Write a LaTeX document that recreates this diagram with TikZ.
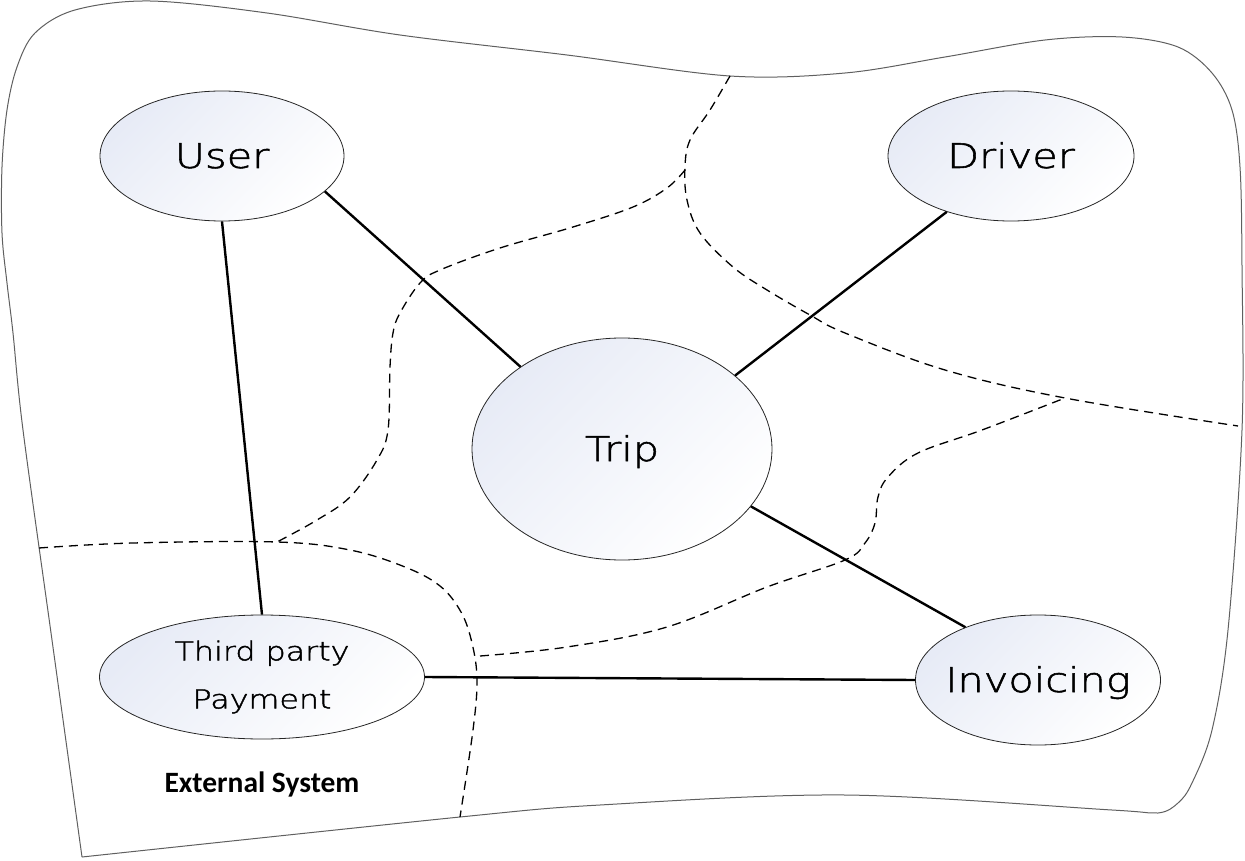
\documentclass[tikz,border=0pt]{standalone}
\usepackage{fontspec}
\setmainfont{Carlito}
\newfontfamily\handfont[FakeStretch=1.22,FakeBold=1.6]{DejaVu Sans ExtraLight}
\usetikzlibrary{shapes.geometric}
\definecolor{ellfill}{RGB}{231,235,246}
\definecolor{outl}{RGB}{95,95,95}
\tikzset{
  entity/.style={ellipse, draw=black!85, line width=0.8pt,
    top color=ellfill, bottom color=white, shading angle=45,
    inner sep=0pt, font=\handfont\fontsize{34}{40}\selectfont},
  bigtext/.style={text height=24pt, text depth=0pt},
  link/.style={line width=2.4pt, draw=black},
  zone/.style={dash pattern=on 9pt off 6pt, line width=1.3pt, draw=black},
  frame/.style={draw=outl, line width=1pt},
  caption/.style={font=\bfseries\fontsize{29.5}{33}\selectfont, anchor=base}
}
\begin{document}
\begin{tikzpicture}[x=1pt,y=-1pt]
\useasboundingbox (0,0) rectangle (1245,861);
% outer boundary
\draw[frame] plot[smooth, tension=0.55] coordinates {(82,857) (52,640) (23,430) (13,333) (7,283) (2,233) (2,167) (7,110) (17,67) (35,33) (75,10) (150,1) (267,13) (400,35) (567,55) (730,76) (845,73) (945,57) (1045,40) (1122,37) (1178,47) (1212,73) (1232,110) (1240,167) (1242,267) (1242,430) (1228,630) (1212,730) (1192,783) (1178,803) (1158,813) (1112,810) (845,795) (600,805) (460,817) (82,857)};
% dashed zone borders
\draw[zone] plot[smooth, tension=0.6] coordinates {(730,76) (710,110) (690,140) (685,167) (687,200) (700,233) (733,267) (767,290) (810,315) (845,333) (945,370) (1065,398) (1238,426)};
\draw[zone] plot[smooth, tension=0.6] coordinates {(685,170) (667,188) (633,207) (573,227) (500,248) (440,270) (420,283) (400,313) (393,333) (390,367) (388,430) (377,460) (350,497) (317,520) (277,542)};
\draw[zone] plot[smooth, tension=0.6] coordinates {(39,548) (133,543) (277,542) (350,550) (405,567) (440,586) (461,612) (472,643) (477,680) (473,730) (460,817)};
\draw[zone] plot[smooth, tension=0.6] coordinates {(480,656) (567,647) (667,627) (767,587) (845,560) (865,543) (875,523) (878,497) (888,477) (918,453) (982,430) (1065,398)};
% entities
\node[entity, bigtext, minimum width=244pt, minimum height=130pt] (user) at (222,156) {\makebox[0pt]{User}};
\node[entity, bigtext, minimum width=246pt, minimum height=130pt] (driver) at (1011,156) {\makebox[0pt]{Driver}};
\node[entity, bigtext, minimum width=300pt, minimum height=222pt] (trip) at (622,449) {\makebox[0pt]{Trip}};
\node[entity, align=center, font=\handfont\fontsize{26}{48}\selectfont, minimum width=325pt, minimum height=124pt] (tpp) at (262,677) {\makebox[0pt]{Third party}\\\makebox[0pt]{Payment}};
\node[entity, bigtext, minimum width=245pt, minimum height=130pt] (inv) at (1038,680) {\makebox[0pt]{Invoicing}};
\node[caption] (ext) at (262,792.7) {External System};
% connectors
\draw[link] (user.-19.6) -- (trip.141.5);
\draw[link] (user.south) -- (tpp.north);
\draw[link] (driver.221.6) -- (trip.33.3);
\draw[link] (trip.-24.7) -- (inv.144.5);
\draw[link] (tpp.east) -- (inv.west);
\end{tikzpicture}
\end{document}
